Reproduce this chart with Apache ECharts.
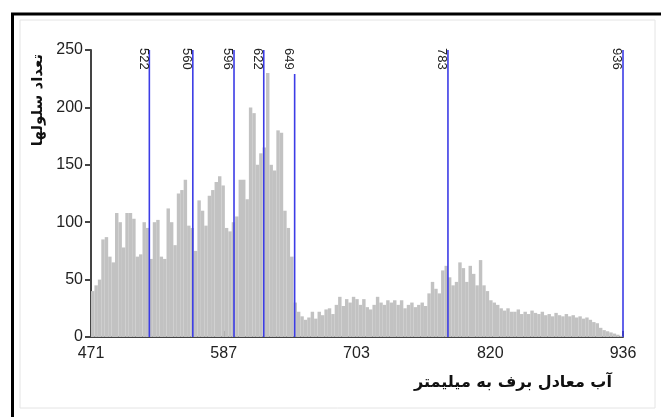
<!DOCTYPE html>
<html>
<head>
<meta charset="utf-8">
<script src="https://cdn.jsdelivr.net/npm/echarts@6/dist/echarts.min.js"></script>
<style>
html,body{margin:0;padding:0;background:#fff;}
#chart{width:661px;height:417px;}
</style>
</head>
<body>
<div id="chart"></div>
<script>
// Histogram: bins of width 3 starting at 471
const binStart = 471;
const binWidth = 3;
const counts = [
  40,45,50,85,87,70,65,108,100,78,
  108,108,103,70,72,100,95,68,100,102,
  70,68,112,100,80,125,128,137,97,95,
  75,119,110,97,123,128,135,140,132,95,
  92,100,105,137,137,120,200,195,150,160,
  165,230,150,145,180,178,110,95,70,30,
  22,18,15,17,22,16,22,19,24,25,
  20,28,35,27,33,30,35,33,28,33,
  26,24,28,35,30,28,32,30,32,28,
  32,25,28,30,26,28,30,27,38,48,
  42,38,58,62,52,45,48,65,60,48,
  62,55,45,67,45,40,32,30,28,25,
  23,25,22,22,24,20,22,20,23,21,
  20,22,19,20,18,21,19,18,20,18,
  19,17,18,16,17,15,13,12,8,6,
  5,4,3,2,1
];
const xTicks = [471, 587, 703, 820, 936];
const yMax = 250;
const breakValues = [522, 560, 596, 622, 649, 783, 936];
const breakTops = [250, 250, 250, 250, 229, 250, 250];
const yTitle = 'تعداد سلولها';
const xTitle = 'آب معادل برف به میلیمتر';

const histData = counts.map((c, i) => [binStart + i * binWidth, binStart + (i + 1) * binWidth, c]);
const breakData = breakValues.map((v, i) => [v, breakTops[i]]);

const chart = echarts.init(document.getElementById('chart'));
chart.setOption({
  animation: false,
  backgroundColor: '#ffffff',
  grid: { left: 91, right: 38, top: 50, bottom: 80 },
  xAxis: {
    type: 'value', min: 471, max: 936,
    axisLine: { show: true, lineStyle: { color: '#444', width: 2 } },
    axisTick: { show: true, inside: true, length: 6, customValues: xTicks, lineStyle: { color: '#444', width: 2 } },
    axisLabel: { customValues: xTicks, fontSize: 16, color: '#222', margin: 9, fontFamily: 'Liberation Sans' },
    splitLine: { show: false }
  },
  yAxis: {
    type: 'value', min: 0, max: yMax, interval: 50,
    axisLine: { show: true, lineStyle: { color: '#444', width: 2 } },
    axisTick: { show: true, length: 6, lineStyle: { color: '#444', width: 2 } },
    axisLabel: { fontSize: 16, color: '#222', margin: 8, fontFamily: 'Liberation Sans' },
    splitLine: { show: false }
  },
  series: [
    {
      type: 'custom',
      data: histData,
      encode: { x: [0, 1], y: 2 },
      renderItem: function (params, api) {
        const p0 = api.coord([api.value(0), api.value(2)]);
        const p1 = api.coord([api.value(1), 0]);
        return {
          type: 'rect',
          shape: { x: p0[0], y: p0[1], width: p1[0] - p0[0], height: p1[1] - p0[1] },
          style: { fill: '#c2c2c2' }
        };
      }
    },
    {
      type: 'custom',
      data: breakData,
      encode: { x: 0, y: 1 },
      z: 5,
      renderItem: function (params, api) {
        const v = api.value(0);
        const top = api.coord([v, api.value(1)]);
        const bot = api.coord([v, 0]);
        const lab = api.coord([v, yMax]);
        return {
          type: 'group',
          children: [
            { type: 'line', shape: { x1: top[0], y1: top[1], x2: bot[0], y2: bot[1] }, style: { stroke: '#3c3ce6', lineWidth: 1.6 } },
            { type: 'text', x: top[0] - 6, y: lab[1] - 2, rotation: -Math.PI / 2,
              style: { text: String(v), fill: '#222', font: '13px "Liberation Sans"', align: 'left', verticalAlign: 'middle' } }
          ]
        };
      }
    }
  ],
  graphic: [
    { type: 'rect', shape: { x: 20, y: 20, width: 635, height: 388 }, style: { fill: 'none', stroke: '#e4e4e4', lineWidth: 1 } },
    { type: 'line', shape: { x1: 11, y1: 14, x2: 661, y2: 14 }, style: { stroke: '#000', lineWidth: 3 } },
    { type: 'line', shape: { x1: 12.5, y1: 13, x2: 12.5, y2: 417 }, style: { stroke: '#000', lineWidth: 3 } },
    { type: 'text', x: 38, y: 100, rotation: Math.PI / 2,
      style: { text: yTitle, fill: '#111', font: 'bold 15px "DejaVu Sans"', align: 'center', verticalAlign: 'middle' } },
    { type: 'text', x: 513, y: 383,
      style: { text: xTitle, fill: '#111', font: 'bold 16px "DejaVu Sans"', align: 'center', verticalAlign: 'middle' } }
  ]
});
</script>
</body>
</html>
